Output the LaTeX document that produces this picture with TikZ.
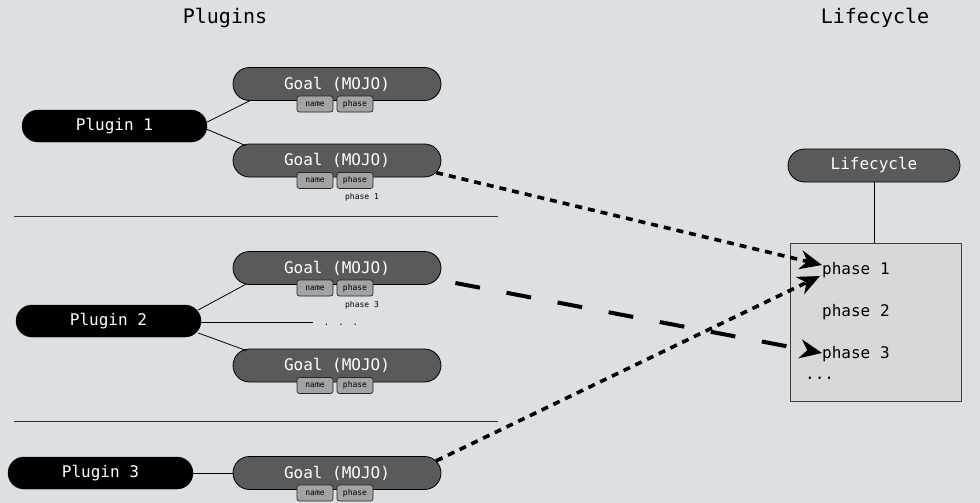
\documentclass[tikz,border=0pt]{standalone}
\usepackage{fontspec}
\setmonofont{DejaVu Sans Mono}
\usetikzlibrary{shapes.misc,arrows.meta,calc}
\definecolor{bg}{HTML}{DCE0E3}
\definecolor{goalgray}{HTML}{5A5A5A}
\definecolor{taggray}{HTML}{A3A3A3}
\definecolor{boxgray}{HTML}{D8D8D8}
\definecolor{sepgray}{HTML}{333333}
\begin{document}
\begin{tikzpicture}[x=1pt,y=-1pt,
  plugin/.style={rounded rectangle, fill=black, draw=black, text=white,
    minimum width=185pt, minimum height=32pt, inner sep=0pt,
    font=\ttfamily\fontsize{16}{18}\selectfont},
  goal/.style={rounded rectangle, fill=goalgray, draw=black, line width=0.8pt, text=white,
    minimum width=208pt, minimum height=33pt, inner sep=0pt,
    font=\ttfamily\fontsize{16}{18}\selectfont},
  tag/.style={rectangle, rounded corners=2.5pt, fill=taggray, draw=black!85, line width=0.7pt,
    minimum width=36pt, minimum height=16pt, inner sep=0pt,
    font=\ttfamily\fontsize{8}{9}\selectfont},
  small/.style={inner sep=0pt, font=\ttfamily\fontsize{8}{9}\selectfont},
  title/.style={inner sep=0pt, font=\ttfamily\fontsize{20}{24}\selectfont},
  phasetxt/.style={inner sep=0pt, anchor=west, font=\ttfamily\fontsize{16}{18}\selectfont},
  conn/.style={draw=black, line width=0.8pt},
  sep/.style={draw=sepgray, line width=0.9pt},
  tip/.style={-{Stealth[length=22pt 0 0,width=19pt 0 0,inset=7pt 0 0]}},
  dotarrow/.style={tip, line width=3.6pt, dash pattern=on 7pt off 6pt},
  dasharrow/.style={tip, line width=4pt, dash pattern=on 25pt off 27pt}
]
\useasboundingbox (0,0) rectangle (980,503);
\fill[bg] (0,0) rectangle (980,503);

% titles
\node[title] (tplug) at (225,18) {Plugins};
\node[title] (tlife) at (875,18) {Lifecycle};

% plugins
\node[plugin] (p1) at (114.5,126) {Plugin 1};
\node[plugin] (p2) at (108.5,321) {Plugin 2};
\node[plugin] (p3) at (100.5,473) {Plugin 3};

% goals
\node[goal] (g1) at (337,84) {Goal (MOJO)};
\node[goal] (g2) at (337,160.5) {Goal (MOJO)};
\node[goal] (g3) at (337,268) {Goal (MOJO)};
\node[goal] (g4) at (337,365.5) {Goal (MOJO)};
\node[goal] (g5) at (337,473) {Goal (MOJO)};

% tags
\foreach \g in {g1,g2,g3,g4,g5}{
  \node[tag] (\g n) at ($(\g)+(-22,20)$) {name};
  \node[tag] (\g p) at ($(\g)+(18,20)$) {phase};
}

% small labels
\node[small] (lab1) at (362,197) {phase 1};
\node[small] (lab3) at (362,305) {phase 3};
\node[small, font=\ttfamily\fontsize{9}{10}\selectfont] (dots) at (341,325) {.\hspace{9pt}.\hspace{9pt}.};

% separators
\coordinate (s1a) at (14,216); \coordinate (s1b) at (498,216);
\coordinate (s2a) at (14,421); \coordinate (s2b) at (498,421);
\draw[sep] (s1a) -- (s1b);
\draw[sep] (s2a) -- (s2b);

% plugin-goal connectors
\draw[conn] ($(p1.east)+(0,-4)$) -- ($(g1.south west)+(0,0)$);
\draw[conn] ($(p1.east)+(-1,3)$) -- ($(g2.north west)+(-4,2)$);
\draw[conn] ($(p2.east)+(-3,-11)$) -- ($(g3.south west)+(-3,-1)$);
\coordinate (p2end) at (313,322);
\draw[conn] ($(p2.east)+(-1,1)$) -- (p2end);
\draw[conn] ($(p2.east)+(-3,12)$) -- ($(g4.north west)+(-3,2)$);
\draw[conn] (p3.east) -- (g5.west);

% lifecycle
\node[goal, minimum width=172pt, minimum height=33pt] (lc) at (874,165.5) {Lifecycle};
\node[draw=black!75, fill=boxgray, line width=0.9pt, minimum width=171pt, minimum height=158pt, inner sep=0pt] (lbox) at (875.5,322) {};
\draw[conn] (lc.south) -- (lbox.north -| lc.south);

\node[phasetxt] (t1) at (822,270) {phase 1};
\node[phasetxt] (t2) at (822,312) {phase 2};
\node[phasetxt] (t3) at (822,354) {phase 3};
\node[phasetxt] (tdots) at (805,378) {...};

% arrows
\draw[dotarrow] (g2.-7) -- ($(t1.west)+(0,-5)$);
\draw[dasharrow] ($(g3.east)+(14,15)$) -- ($(t3.west)+(0,-1)$);
\draw[dotarrow] (g5.7) -- ($(t1.west)+(-2,6)$);
\end{tikzpicture}
\end{document}
